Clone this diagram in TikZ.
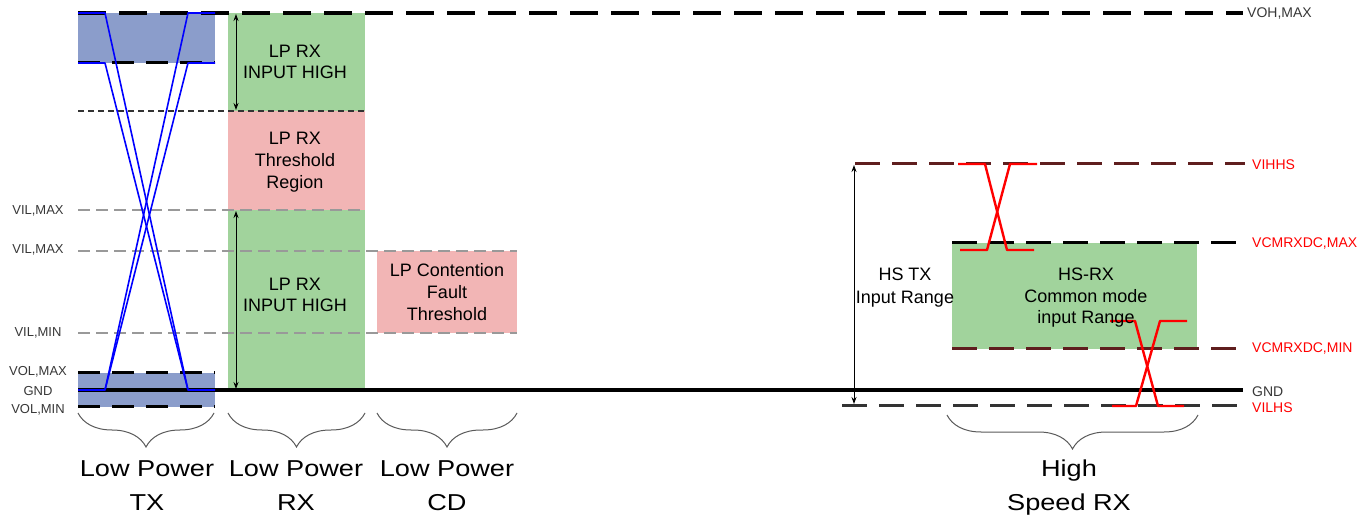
\documentclass[tikz,border=0pt]{standalone}
\usepackage{fontspec}
\setmainfont{Liberation Sans}
\usetikzlibrary{arrows.meta,decorations.pathreplacing}
\definecolor{txblue}{RGB}{139,157,203}
\definecolor{rxgreen}{RGB}{161,211,156}
\definecolor{rxpink}{RGB}{242,181,181}
\definecolor{darkred}{RGB}{95,30,30}
\definecolor{labgray}{RGB}{55,55,55}
\begin{document}
\begin{tikzpicture}[x=1pt,y=-1pt,
  topdash/.style={black,line width=4pt,dash pattern=on 28pt off 13pt},
  boxdash/.style={black,line width=3pt,dash pattern=on 22pt off 12pt},
  finedash/.style={black!80,line width=1.3pt,dash pattern=on 6pt off 4pt},
  graydash/.style={black!40,line width=1.6pt,dash pattern=on 12pt off 6pt},
  hsdash/.style={line width=3pt,dash pattern=on 25pt off 12pt},
  gndline/.style={black,line width=3.2pt},
  sigblue/.style={blue,line width=1.6pt,line join=round},
  sigred/.style={red,line width=2.4pt,line join=round},
  dimarrow/.style={black,line width=0.9pt,{Stealth[length=7pt,width=5pt]}-{Stealth[length=7pt,width=5pt]}},
  bracestyle/.style={black!65,line width=1pt,decorate,decoration={brace,mirror,amplitude=34pt}},
  leftlbl/.style={text=labgray,font=\fontsize{13}{14}\selectfont,inner sep=0pt},
  rightlbl/.style={anchor=west,font=\fontsize{14}{15}\selectfont,inner sep=0pt},
  boxtext/.style={anchor=north,align=center,inner sep=0pt,font=\fontsize{18}{21}\selectfont},
  bigtext/.style={anchor=north,align=center,inner sep=0pt,xscale=1.18,font=\fontsize{23}{34}\selectfont}
]
\useasboundingbox (0,0) rectangle (1369,521);

% filled regions
\fill[txblue] (78,13) rectangle (215,63);
\fill[txblue] (78,373) rectangle (215,407);
\fill[rxgreen] (228,13) rectangle (365,111);
\fill[rxpink] (228,111) rectangle (365,210);
\fill[rxgreen] (228,210) rectangle (365,390);
\fill[rxpink] (377,251) rectangle (517,333);
\fill[rxgreen] (952,243) rectangle (1197,349);

% level lines
\draw[topdash] (78,13) -- (1243,13);
\draw[boxdash] (78,63) -- (215,63);
\draw[finedash] (78,111) -- (365,111);
\draw[graydash] (78,210) -- (365,210);
\draw[graydash] (78,251) -- (517,251);
\draw[graydash] (78,333) -- (517,333);
\draw[boxdash] (78,373) -- (215,373);
\draw[boxdash] (78,407) -- (215,407);
\draw[gndline] (78,390) -- (1243,390);

\draw[hsdash,darkred] (855,164) -- (1245,164);
\draw[hsdash,black] (952,243) -- (1245,243);
\draw[hsdash,darkred] (952,349) -- (1245,349);
\draw[hsdash,black!80] (842,406) -- (1245,406);

% LP TX signals
\draw[sigblue] (78,13) -- (105,13) -- (188,390) -- (215,390);
\draw[sigblue] (78,63) -- (105,63) -- (188,390);
\draw[sigblue] (215,13) -- (188,13) -- (105,390) -- (78,390);
\draw[sigblue] (215,63) -- (188,63) -- (105,390);

% HS signals
\draw[sigred] (958,164) -- (985,164) -- (1007,250) -- (1034,250);
\draw[sigred] (960,250) -- (987,250) -- (1010,164) -- (1037,164);
\draw[sigred] (1110,321) -- (1135,321) -- (1158,406) -- (1184,406);
\draw[sigred] (1112,406) -- (1136,406) -- (1160,321) -- (1187,321);

% dimension arrows
\coordinate (a1t) at (236,14);
\coordinate (a1b) at (236,110);
\coordinate (a2t) at (236,211);
\coordinate (a2b) at (236,389);
\coordinate (hst) at (854,165);
\coordinate (hsb) at (854,404);
\draw[dimarrow] (a1t) -- (a1b);
\draw[dimarrow] (a2t) -- (a2b);
\draw[dimarrow] (hst) -- (hsb);

% braces
\coordinate (b1l) at (78,413);  \coordinate (b1r) at (214,413);
\coordinate (b2l) at (228,413); \coordinate (b2r) at (365,413);
\coordinate (b3l) at (377,413); \coordinate (b3r) at (517,413);
\coordinate (b4l) at (947,415); \coordinate (b4r) at (1198,415);
\draw[bracestyle] (b1l) -- (b1r);
\draw[bracestyle] (b2l) -- (b2r);
\draw[bracestyle] (b3l) -- (b3r);
\draw[bracestyle] (b4l) -- (b4r);

% left labels
\node[leftlbl] (lvilmax1) at (38,211) {VIL,MAX};
\node[leftlbl] (lvilmax2) at (38,250) {VIL,MAX};
\node[leftlbl] (lvilmin) at (38,333) {VIL,MIN};
\node[leftlbl] (lvolmax) at (38,372) {VOL,MAX};
\node[leftlbl] (lgnd) at (38,391) {GND};
\node[leftlbl] (lvolmin) at (38,410) {VOL,MIN};

% right labels
\node[rightlbl,text=labgray] (rvoh) at (1247,14) {VOH,MAX};
\node[rightlbl,text=red] (rvihhs) at (1252,165) {VIHHS};
\node[rightlbl,text=red] (rvcmax) at (1252,244) {VCMRXDC,MAX};
\node[rightlbl,text=red] (rvcmin) at (1252,349) {VCMRXDC,MIN};
\node[rightlbl,text=labgray] (rgnd) at (1252,392) {GND};
\node[rightlbl,text=red] (rvilhs) at (1252,408) {VILHS};

% box texts
\node[boxtext] (t1) at (295,45) {LP RX\\INPUT HIGH};
\node[boxtext,font=\fontsize{18}{22}\selectfont] (t2) at (295,132) {LP RX\\Threshold\\Region};
\node[boxtext] (t3) at (295,278) {LP RX\\INPUT HIGH};
\node[boxtext,font=\fontsize{18}{22}\selectfont] (t4) at (447,263) {LP Contention\\Fault\\Threshold};
\node[boxtext,font=\fontsize{18}{23}\selectfont] (t5) at (905,268) {HS TX\\Input Range};
\node[boxtext,font=\fontsize{18}{21.5}\selectfont] (t6) at (1086,268) {HS-RX\\Common mode\\input Range};

% bottom captions
\node[bigtext] (c1) at (147,460) {Low Power\\TX};
\node[bigtext] (c2) at (296,460) {Low Power\\RX};
\node[bigtext] (c3) at (447,460) {Low Power\\CD};
\node[bigtext] (c4) at (1069,460) {High\\Speed RX};
\end{tikzpicture}
\end{document}
